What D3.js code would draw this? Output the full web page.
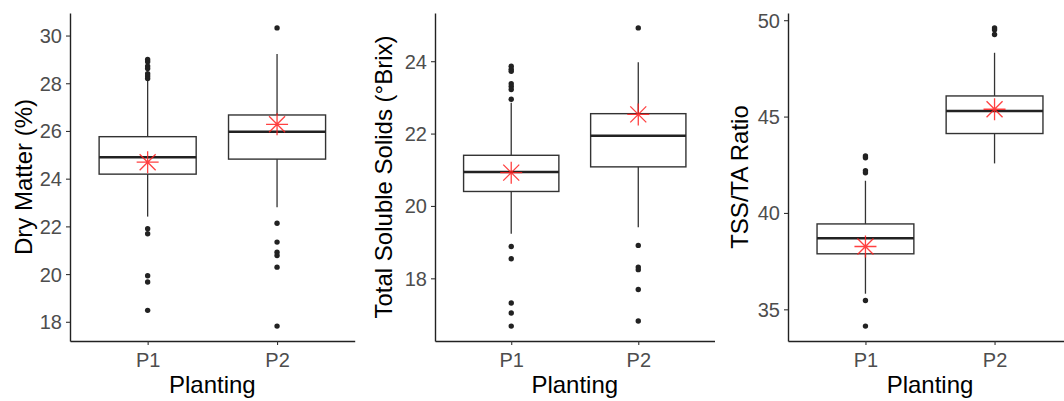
<!DOCTYPE html>
<html>
<head>
<meta charset="utf-8">
<script src="https://cdn.jsdelivr.net/npm/d3@7"></script>
<style>
  body { margin: 0; background: #fff; }
  text { font-family: 'Liberation Sans', Arial, sans-serif; }
</style>
</head>
<body>
<div id="viz"></div>
<script>
let plantings = ['P1', 'P2'];

// Dry matter (%)
let dmQ1 = [24.19, 24.82];
let dmMedian = [24.90, 25.97];
let dmQ3 = [25.76, 26.67];
let dmLow = [22.41, 22.80];
let dmHigh = [28.10, 29.23];
let dmMean = [24.69, 26.28];
let dmOutliers = [
  [29.0, 28.9, 28.72, 28.62, 28.4, 28.3, 28.2, 21.9, 21.69, 19.93, 19.67, 18.48],
  [30.32, 22.13, 21.34, 20.92, 20.78, 20.29, 17.82]
];
let dmTicks = [18, 20, 22, 24, 26, 28, 30];

// Total soluble solids (°Brix)
let tssQ1 = [20.40, 21.08];
let tssMedian = [20.94, 21.94];
let tssQ3 = [21.40, 22.55];
let tssLow = [19.23, 19.41];
let tssHigh = [22.85, 23.97];
let tssMean = [20.92, 22.53];
let tssOutliers = [
  [23.86, 23.78, 23.72, 23.38, 23.3, 23.22, 22.95, 18.88, 18.54, 17.32, 17.04, 16.68],
  [24.92, 18.91, 18.31, 18.24, 17.69, 16.82]
];
let tssTicks = [18, 20, 22, 24];

// TSS/TA ratio
let ratioQ1 = [37.88, 44.12];
let ratioMedian = [38.69, 45.29];
let ratioQ3 = [39.43, 46.07];
let ratioLow = [35.81, 42.57];
let ratioHigh = [41.67, 48.31];
let ratioMean = [38.26, 45.38];
let ratioOutliers = [
  [42.96, 42.86, 42.19, 42.08, 35.46, 34.13],
  [49.6, 49.5, 49.26]
];
let ratioTicks = [35, 40, 45, 50];

let svg = d3.select('#viz')
  .append('svg')
  .attr('width', 1064)
  .attr('height', 401);

let plotTop = 13, plotBottom = 341;

buildPanel({
  left: 70, right: 354.7, titleX: 32,
  title: 'Dry Matter (%)',
  q1: dmQ1, median: dmMedian, q3: dmQ3, low: dmLow, high: dmHigh,
  mean: dmMean, outliers: dmOutliers, ticks: dmTicks
});

buildPanel({
  left: 435, right: 714.5, titleX: 392,
  title: 'Total Soluble Solids (°Brix)',
  q1: tssQ1, median: tssMedian, q3: tssQ3, low: tssLow, high: tssHigh,
  mean: tssMean, outliers: tssOutliers, ticks: tssTicks
});

buildPanel({
  left: 788, right: 1072, titleX: 748,
  title: 'TSS/TA Ratio',
  q1: ratioQ1, median: ratioMedian, q3: ratioQ3, low: ratioLow, high: ratioHigh,
  mean: ratioMean, outliers: ratioOutliers, ticks: ratioTicks
});

function buildPanel(p) {
  let g = svg.append('g');

  // ggplot style 5% expansion around the data range
  let all = p.low.concat(p.high, d3.merge(p.outliers));
  let ext = d3.extent(all);
  let pad = (ext[1] - ext[0]) * 0.05;

  let y = d3.scaleLinear()
    .domain([ext[0] - pad, ext[1] + pad])
    .range([plotBottom, plotTop]);

  let x = d3.scalePoint()
    .domain(plantings)
    .range([p.left, p.right])
    .padding(0.6);

  let boxW = x.step() * 0.75;

  plantings.forEach(function (name, i) {
    let cx = x(name);

    g.append('line')
      .attr('x1', cx).attr('x2', cx)
      .attr('y1', y(p.high[i])).attr('y2', y(p.low[i]))
      .attr('stroke', '#333')
      .attr('stroke-width', 1.3);

    g.append('rect')
      .attr('x', cx - boxW / 2)
      .attr('y', y(p.q3[i]))
      .attr('width', boxW)
      .attr('height', y(p.q1[i]) - y(p.q3[i]))
      .attr('fill', '#fff')
      .attr('stroke', '#333')
      .attr('stroke-width', 1.4);

    g.append('line')
      .attr('x1', cx - boxW / 2).attr('x2', cx + boxW / 2)
      .attr('y1', y(p.median[i])).attr('y2', y(p.median[i]))
      .attr('stroke', '#222')
      .attr('stroke-width', 2.6);

    g.selectAll(null)
      .data(p.outliers[i])
      .enter()
      .append('circle')
      .attr('cx', cx)
      .attr('cy', d => y(d))
      .attr('r', 2.7)
      .attr('fill', '#222');

    // mean marker, asterisk like pch 8
    let my = y(p.mean[i]);
    let a = 11, b = 8;
    g.append('path')
      .attr('d', `M${cx - a},${my}H${cx + a}M${cx},${my - a}V${my + a}` +
        `M${cx - b},${my - b}L${cx + b},${my + b}M${cx - b},${my + b}L${cx + b},${my - b}`)
      .attr('stroke', '#ff2020')
      .attr('stroke-opacity', 0.85)
      .attr('stroke-width', 1.3)
      .attr('fill', 'none');
  });

  // axes
  let yAxis = g.append('g')
    .attr('transform', `translate(${p.left},0)`)
    .call(d3.axisLeft(y).tickValues(p.ticks).tickSize(4).tickSizeOuter(0).tickPadding(4));

  let xAxis = g.append('g')
    .attr('transform', `translate(0,${plotBottom})`)
    .call(d3.axisBottom(x).tickSize(4).tickSizeOuter(0).tickPadding(8));

  [yAxis, xAxis].forEach(function (ax) {
    ax.select('.domain').attr('stroke', '#222').attr('stroke-width', 1.4);
    ax.selectAll('.tick line').attr('stroke', '#333').attr('stroke-width', 1.1);
    ax.selectAll('.tick text')
      .attr('fill', '#4d4d4d')
      .style('font-size', '20px')
      .style('font-family', "'Liberation Sans', Arial, sans-serif");
  });

  yAxis.selectAll('.tick text').attr('dy', '0.35em');

  g.append('text')
    .text('Planting')
    .attr('x', (p.left + Math.min(p.right, 1064)) / 2 + (p.right > 1064 ? 4 : 0))
    .attr('y', 393)
    .attr('text-anchor', 'middle')
    .style('font-size', '24px')
    .attr('fill', '#000');

  g.append('text')
    .text(p.title)
    .attr('transform', `translate(${p.titleX},${(plotTop + plotBottom) / 2}) rotate(-90)`)
    .attr('text-anchor', 'middle')
    .style('font-size', '24px')
    .attr('fill', '#000');
}
</script>
</body>
</html>
